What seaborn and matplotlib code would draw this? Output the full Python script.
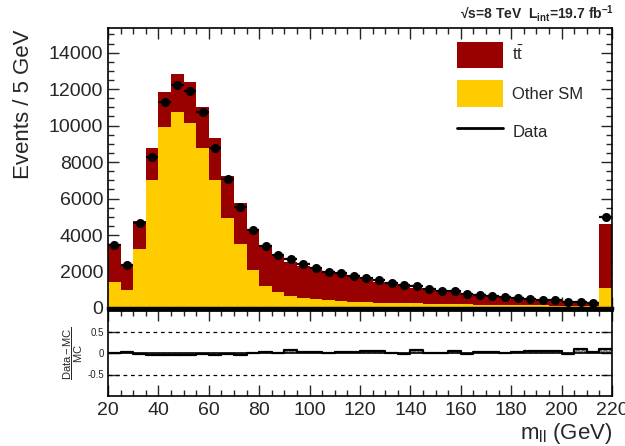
import numpy as np
import pandas as pd
import matplotlib
matplotlib.use("Agg")
import matplotlib.pyplot as plt
from matplotlib.patches import Patch
from matplotlib.lines import Line2D
from matplotlib.ticker import MultipleLocator
import seaborn as sns

# Dilepton invariant mass, 5 GeV bins from 20 to 220 GeV (last bin includes overflow)
bin_edges = list(range(20, 225, 5))
bin_centers = [e + 2.5 for e in bin_edges[:-1]]

other_sm = [1430, 990, 3210, 6990, 9930, 10730, 10160, 8770, 6990, 4950,
            3490, 2080, 1220, 870, 650, 535, 480, 425, 385, 335,
            325, 300, 285, 265, 250, 240, 225, 210, 200, 190,
            180, 170, 160, 150, 140, 135, 125, 120, 110, 1070]
ttbar = [2070, 1330, 1570, 1770, 1930, 2120, 2240, 2260, 2310, 2300,
         2270, 2220, 2120, 1980, 1870, 1785, 1640, 1595, 1485, 1395,
         1255, 1150, 1060, 995, 865, 815, 730, 650, 585, 495,
         450, 415, 375, 312, 283, 273, 212, 203, 142, 3520]
data = [3480, 2380, 4650, 8300, 11270, 12240, 11910, 10740, 8790, 7070,
        5530, 4280, 3380, 2880, 2700, 2390, 2190, 2000, 1910, 1780,
        1670, 1520, 1360, 1235, 1195, 1065, 945, 905, 770, 700,
        645, 590, 550, 480, 440, 425, 330, 352, 260, 4990]

process_labels = [r"$\mathrm{t\bar{t}}$", "Other SM"]
process_colors = ["#990000", "#ffcc00"]
x_ticks = list(range(20, 221, 20))
y_ticks = list(range(0, 14001, 2000))
ratio_ticks = [-0.5, 0, 0.5]

sns.set_theme(style="ticks")
plt.rcParams["font.family"] = ["Liberation Sans", "DejaVu Sans"]
plt.rcParams["mathtext.fontset"] = "custom"
plt.rcParams["mathtext.rm"] = "Liberation Sans"
plt.rcParams["mathtext.it"] = "Liberation Sans:italic"
plt.rcParams["mathtext.bf"] = "Liberation Sans:bold"
plt.rcParams["mathtext.default"] = "regular"

W, H = 625, 446
fig = plt.figure(figsize=(W / 100, H / 100), dpi=100)
ax = fig.add_axes([108 / W, 1 - 308 / H, 504 / W, 280 / H])
rax = fig.add_axes([108 / W, 1 - 396 / H, 504 / W, 86 / H])

# Stacked simulation
mc = pd.DataFrame({
    "mll": bin_centers + bin_centers,
    "events": ttbar + other_sm,
    "process": [process_labels[0]] * len(bin_centers) + [process_labels[1]] * len(bin_centers),
})
sns.histplot(data=mc, x="mll", weights="events", hue="process",
             hue_order=process_labels, palette=dict(zip(process_labels, process_colors)),
             bins=bin_edges, multiple="stack", element="bars", alpha=1,
             linewidth=0, legend=False, ax=ax)

# Data points with bin-width horizontal bars
ax.errorbar(bin_centers, data, xerr=2.5, fmt="o", color="black",
            markersize=5.5, elinewidth=1.6, capsize=0, zorder=5)

ax.set_xlim(20, 220)
ax.set_ylim(0, 15350)
ax.set_xlabel("")
ax.set_ylabel("Events / 5 GeV", fontsize=16, loc="top")
ax.yaxis.set_label_coords(-0.147, 0.993)
ax.set_xticks(x_ticks)
ax.set_yticks(y_ticks)
ax.xaxis.set_minor_locator(MultipleLocator(5))
ax.yaxis.set_minor_locator(MultipleLocator(500))
ax.tick_params(axis="x", labelbottom=False)
ax.tick_params(which="both", direction="in", top=True, right=True, width=1)
ax.tick_params(which="major", length=8, labelsize=14)
ax.tick_params(which="minor", length=4)
for s in ax.spines.values():
    s.set_linewidth(1.2)
    s.set_color("black")
ax.spines["bottom"].set_linewidth(2.5)

handles = [Patch(facecolor=process_colors[0], edgecolor="none"),
           Patch(facecolor=process_colors[1], edgecolor="none"),
           Line2D([0], [0], color="black", lw=2)]
ax.legend(handles, process_labels + ["Data"], loc="upper left",
          bbox_to_anchor=(0.662, 1.005), frameon=False, fontsize=12,
          handlelength=2.8, handleheight=2.1, labelspacing=0.7, handletextpad=0.55)

fig.text(614 / W, 1 - 13 / H, r"√s=8 TeV  L$_{int}$=19.7 fb$^{-1}$",
         ha="right", va="center", fontsize=10, fontweight="bold")

# Relative difference between data and simulation
mc_total = np.asarray(ttbar) + np.asarray(other_sm)
ratio = (np.asarray(data) - mc_total) / mc_total
ratio_steps = np.append(ratio, ratio[-1])
rax.fill_between(bin_edges, 0, ratio_steps, step="post", facecolor="#c8c8c8",
                 edgecolor="#707070", hatch="xxxxxx", linewidth=0)
rax.step(bin_edges, ratio_steps, where="post", color="black", lw=1.6)
rax.axhline(0, color="black", lw=1.2)
for yv in (0.5, -0.5):
    rax.axhline(yv, color="black", lw=0.9, ls=(0, (3, 3)))

rax.set_xlim(20, 220)
rax.set_ylim(-1, 1)
rax.set_xticks(x_ticks)
rax.set_yticks(ratio_ticks)
rax.set_yticklabels(["-0.5", "0", "0.5"])
rax.xaxis.set_minor_locator(MultipleLocator(5))
rax.tick_params(which="both", direction="in", top=True, right=True, width=1)
rax.tick_params(axis="x", which="major", length=8, labelsize=14, pad=4)
rax.tick_params(axis="x", which="minor", length=4)
rax.tick_params(axis="y", which="major", length=8, labelsize=7, pad=3)
for s in rax.spines.values():
    s.set_linewidth(1.2)
    s.set_color("black")
rax.spines["top"].set_linewidth(2.0)
rax.set_ylabel(r"$\dfrac{Data-MC}{MC}$", fontsize=8)
rax.yaxis.set_label_coords(-0.046, 0.5)
rax.set_xlabel(r"m$_{ll}$ (GeV)", fontsize=16, loc="right", labelpad=2)

fig.savefig("out.png", dpi=100)
